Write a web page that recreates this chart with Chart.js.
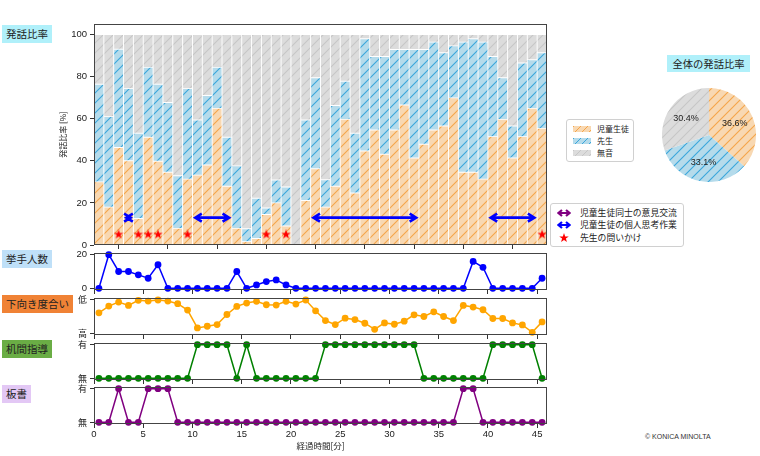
<!DOCTYPE html>
<html>
<head>
<meta charset="utf-8">
<script src="https://cdn.jsdelivr.net/npm/chart.js@4.4.0/dist/chart.umd.min.js"></script>
<style>
  body { margin: 0; background: #fff; }
  #wrap { position: relative; width: 760px; height: 456px; overflow: hidden; font-family: "Noto Sans CJK JP", sans-serif; color: #222; }
  #wrap canvas { position: absolute; }
  .tag { position: absolute; left: 2px; height: 18px; line-height: 18px; font-size: 10.5px; padding: 0 4px; white-space: nowrap; }
  .legend { position: absolute; background: #fff; border: 1px solid #d0d0d0; border-radius: 3px; }
  .legend .row { position: absolute; left: 0; height: 12px; line-height: 12px; white-space: nowrap; }
  .sw { position: absolute; top: 3px; width: 18px; height: 6px; }
  .copy { position: absolute; left: 645px; top: 433px; font: 7px "Liberation Sans", sans-serif; color: #333; }
</style>
</head>
<body>
<div id="wrap">
  <div class="tag" style="top:25px;background:#b0f0fa;">発話比率</div>
  <div class="tag" style="top:250px;background:#bfe0f8;">挙手人数</div>
  <div class="tag" style="top:295px;background:#f08235;">下向き度合い</div>
  <div class="tag" style="top:340px;background:#6aad45;">机間指導</div>
  <div class="tag" style="top:385px;background:#e3c8f5;">板書</div>

  <canvas id="ratio" width="556" height="233" style="left:0;top:18px;"></canvas>
  <canvas id="hands" width="556" height="47" style="left:0;top:248px;"></canvas>
  <canvas id="down" width="556" height="47" style="left:0;top:293px;"></canvas>
  <canvas id="patrol" width="556" height="47" style="left:0;top:338px;"></canvas>
  <canvas id="board" width="556" height="72" style="left:0;top:382px;"></canvas>

  <div class="legend" id="legRatio" style="left:566px;top:119px;width:66px;height:41px;font-size:8px;"></div>
  <div class="legend" id="legMarks" style="left:550px;top:203px;width:132px;height:42px;font-size:8.8px;"></div>

  <div style="position:absolute;left:667px;top:55px;width:83px;height:17px;line-height:17px;text-align:center;background:#b0f0fa;font-size:10.3px;">全体の発話比率</div>
  <canvas id="pie" width="94" height="94" style="left:662px;top:88px;"></canvas>

  <div class="copy">© KONICA MINOLTA</div>
</div>
<script>
// minute slots (bar centres)
const minutes = [0.5, 1.5, 2.5, 3.5, 4.5, 5.5, 6.5, 7.5, 8.5, 9.5, 10.5, 11.5, 12.5, 13.5, 14.5, 15.5,
  16.5, 17.5, 18.5, 19.5, 20.5, 21.5, 22.5, 23.5, 24.5, 25.5, 26.5, 27.5, 28.5, 29.5, 30.5, 31.5,
  32.5, 33.5, 34.5, 35.5, 36.5, 37.5, 38.5, 39.5, 40.5, 41.5, 42.5, 43.5, 44.5, 45.5];
const xTicks = [0, 5, 10, 15, 20, 25, 30, 35, 40, 45];

// 発話比率 [%]
const studentRatio = [30, 18, 46.3, 40, 12.6, 51.2, 39.8, 34.6, 7.9, 31.3, 33.2, 38, 64.9, 27.9, 7.9, 1.6,
  3.1, 14.5, 20, 9, 0, 21.1, 36.2, 18, 27.9, 59.7, 24.7, 44.7, 54.6, 43.1, 54.6, 66.5,
  41.3, 47.9, 54.6, 56.5, 69.9, 34.6, 34.6, 31.3, 51.5, 59.7, 41.3, 51.5, 64.9, 55.4];
const teacherRatio = [46.4, 43, 46.7, 34.3, 40.5, 33.2, 36.6, 33.1, 25, 43, 26.2, 33, 19.5, 23.3, 29.7, 6.1,
  19.1, 3.1, 10.9, 18.6, 0, 38.3, 43.3, 13, 38.4, 18.1, 28.4, 53.3, 35, 46.5, 38.3, 26.4,
  51.6, 45, 41.8, 34.8, 24.7, 61.8, 63.4, 65.1, 38.1, 19.8, 15.2, 35, 23.1, 35.9];
const silenceRatio = [23.6, 39, 7, 25.7, 46.9, 15.6, 23.6, 32.3, 67.1, 25.7, 40.6, 29, 15.6, 48.8, 62.4, 92.3,
  77.8, 82.4, 69.1, 72.4, 100, 40.6, 20.5, 69, 33.7, 22.2, 46.9, 2, 10.4, 10.4, 7.1, 7.1,
  7.1, 7.1, 3.6, 8.7, 5.4, 3.6, 2, 3.6, 10.4, 20.5, 43.5, 13.5, 12, 8.7];
const ratioTicks = [0, 20, 40, 60, 80, 100];

// events on the ratio panel
const questionTimes = [2.5, 4.5, 5.5, 6.5, 9.5, 17.5, 19.5, 45.5];
const questionLevel = 5;
const thinkPeriods = [[3, 4], [10, 14], [22, 33], [40, 45]];
const exchangePeriods = [];
const arrowLevel = 13;

// lower panels
const handsRaised = [0, 20, 10, 10, 8, 6, 14, 0, 0, 0, 0, 0, 0, 0, 10, 0,
  2, 4, 5, 2, 0, 0, 0, 0, 0, 0, 0, 0, 0, 0, 0, 0,
  0, 0, 0, 0, 0, 0, 16, 12.5, 0, 0, 0, 0, 0, 6];
const lookingDown = [0.61, 0.81, 0.93, 0.83, 0.98, 0.96, 0.99, 0.96, 0.88, 0.69, 0.16, 0.21, 0.26, 0.56, 0.80, 0.90,
  0.95, 0.85, 0.84, 0.95, 0.87, 0.99, 0.67, 0.38, 0.26, 0.45, 0.41, 0.30, 0.12, 0.31, 0.27, 0.36,
  0.55, 0.50, 0.64, 0.50, 0.38, 0.83, 0.78, 0.70, 0.44, 0.44, 0.31, 0.25, 0.03, 0.34];
const deskPatrol = [0, 0, 0, 0, 0, 0, 0, 0, 0, 0, 1, 1, 1, 1, 0, 1,
  0, 0, 0, 0, 0, 0, 0, 1, 1, 1, 1, 1, 1, 1, 1, 1,
  1, 0, 0, 0, 0, 0, 0, 0, 1, 1, 1, 1, 1, 0];
const boardWriting = [0, 0, 1, 0, 0, 1, 1, 1, 0, 0, 0, 0, 0, 0, 0, 0,
  0, 0, 0, 0, 0, 0, 0, 0, 0, 0, 0, 0, 0, 0, 0, 0,
  0, 0, 0, 0, 0, 1, 1, 0, 0, 0, 0, 0, 0, 0];

// overall pie
const pieLabels = ['児童生徒', '先生', '無音'];
const pieValues = [36.6, 33.1, 30.4];

const cjk = '"Noto Sans CJK JP", sans-serif';
Chart.defaults.font.family = '"Liberation Sans", "Noto Sans CJK JP", sans-serif';
Chart.defaults.font.size = 9.5;
Chart.defaults.color = '#222';
Chart.defaults.animation = false;
Chart.defaults.plugins.legend.display = false;
Chart.defaults.plugins.tooltip.enabled = false;

function hatch(fill, line) {
  const c = document.createElement('canvas');
  c.width = 10; c.height = 10;
  const g = c.getContext('2d');
  g.fillStyle = fill;
  g.fillRect(0, 0, 10, 10);
  g.strokeStyle = line;
  g.lineWidth = 1.1;
  g.beginPath();
  g.moveTo(-5, 5); g.lineTo(5, -5);
  g.moveTo(0, 10); g.lineTo(10, 0);
  g.moveTo(5, 15); g.lineTo(15, 5);
  g.stroke();
  return g.createPattern(c, 'repeat');
}
const styles = [
  { fill: '#f8d8b2', line: '#f5a54a' },
  { fill: '#b5dbeb', line: '#3aa6dc' },
  { fill: '#dcdcdc', line: '#c6c6c6' }
];
const patterns = styles.map(s => hatch(s.fill, s.line));

function starImage(size, color) {
  const c = document.createElement('canvas');
  c.width = size; c.height = size;
  const g = c.getContext('2d');
  const r = size / 2, ri = r * 0.4;
  g.fillStyle = color;
  g.beginPath();
  for (let k = 0; k < 10; k++) {
    const a = -Math.PI / 2 + k * Math.PI / 5;
    const rr = k % 2 ? ri : r;
    g.lineTo(r + rr * Math.cos(a), r + rr * Math.sin(a));
  }
  g.closePath();
  g.fill();
  return c;
}

const framePlugin = {
  id: 'frame',
  afterDatasetsDraw(chart) {
    const { ctx, chartArea: a } = chart;
    ctx.save();
    ctx.strokeStyle = '#444';
    ctx.lineWidth = 1;
    ctx.strokeRect(Math.round(a.left) + 0.5, Math.round(a.top) + 0.5,
      Math.round(a.right - a.left) - 1, Math.round(a.bottom - a.top) - 1);
    ctx.restore();
  }
};

const arrowPlugin = {
  id: 'periodArrows',
  afterDatasetsDraw(chart) {
    const { ctx, scales: { x, y } } = chart;
    const yp = y.getPixelForValue(arrowLevel);
    const draw = (periods, color) => periods.forEach(([s, e]) => {
      const x1 = x.getPixelForValue(s) + 2.8, x2 = x.getPixelForValue(e) - 2.8;
      ctx.save();
      ctx.strokeStyle = color;
      ctx.lineWidth = 2.6;
      ctx.lineJoin = 'miter';
      ctx.beginPath();
      ctx.moveTo(x1, yp); ctx.lineTo(x2, yp);
      ctx.moveTo(x1 + 6.5, yp - 4); ctx.lineTo(x1, yp); ctx.lineTo(x1 + 6.5, yp + 4);
      ctx.moveTo(x2 - 6.5, yp - 4); ctx.lineTo(x2, yp); ctx.lineTo(x2 - 6.5, yp + 4);
      ctx.stroke();
      ctx.restore();
    });
    draw(exchangePeriods, '#800080');
    draw(thinkPeriods, '#0000ff');
  }
};

function xAxis(bottom) {
  return {
    type: 'linear', min: 0, max: 46, offset: false, stacked: true,
    afterBuildTicks: s => { s.ticks = xTicks.map(v => ({ value: v })); },
    ticks: { display: bottom, padding: 1, maxRotation: 0, autoSkip: false },
    grid: { drawOnChartArea: false, drawTicks: true, tickLength: 4, color: '#333' },
    border: { display: false },
    title: bottom
      ? { display: true, text: '経過時間[分]', font: { size: 8.5, family: cjk }, padding: { top: 0, bottom: 3 } }
      : { display: false },
    afterFit: s => { s.height = bottom ? 30 : 5; s.paddingLeft = 0; s.paddingRight = 0; }
  };
}

function yAxis(min, max, ticks, labels, title) {
  return {
    min, max,
    afterBuildTicks: s => { s.ticks = ticks.map(v => ({ value: v })); },
    ticks: {
      padding: 3,
      font: labels ? { family: cjk, size: 9 } : undefined,
      callback: (v, i) => labels ? labels[i] : v
    },
    grid: { drawOnChartArea: false, drawTicks: true, tickLength: 4, color: '#333' },
    border: { display: false },
    title: title
      ? { display: true, text: title, font: { size: 8, family: cjk }, padding: { top: 2, bottom: 0 } }
      : { display: false },
    afterFit: s => { s.width = 38; s.paddingTop = 0; s.paddingBottom = 0; }
  };
}

// --- 発話比率 (stacked hatched bars) ---
const points = arr => minutes.map((m, i) => ({ x: m, y: arr[i] }));
const barSet = (label, arr, i) => ({
  label, data: points(arr), backgroundColor: patterns[i],
  borderColor: 'rgba(255,255,255,0.4)', borderWidth: 0.8, borderSkipped: false,
  barPercentage: 1, categoryPercentage: 1, stack: 'ratio', order: 1
});

new Chart(document.getElementById('ratio'), {
  type: 'bar',
  data: {
    datasets: [
      barSet('児童生徒', studentRatio, 0),
      barSet('先生', teacherRatio, 1),
      barSet('無音', silenceRatio, 2),
      {
        type: 'scatter', label: '先生の問いかけ', stack: 'stars', order: 0,
        data: questionTimes.map(t => ({ x: t, y: questionLevel })),
        pointStyle: starImage(10, '#ff0000'), pointRadius: 5, clip: false
      }
    ]
  },
  options: {
    responsive: false,
    layout: { padding: { left: 56, right: 9, top: 5, bottom: 0 } },
    scales: {
      x: xAxis(false),
      y: Object.assign(yAxis(0, 105, ratioTicks, null, '発話比率 [%]'), { stacked: true })
    }
  },
  plugins: [framePlugin, arrowPlugin]
});

// --- lower line panels ---
function lineChart(id, values, color, min, max, ticks, labels, bottom) {
  new Chart(document.getElementById(id), {
    type: 'line',
    data: {
      datasets: [{
        data: points(values), borderColor: color, backgroundColor: color,
        borderWidth: 1.5, pointRadius: 3.4, pointBorderWidth: 0, tension: 0, clip: false
      }]
    },
    options: {
      responsive: false,
      layout: { padding: { left: 56, right: 9, top: 5, bottom: 0 } },
      scales: {
        x: xAxis(bottom),
        y: yAxis(min, max, ticks, labels, null)
      }
    },
    plugins: [framePlugin]
  });
}
lineChart('hands', handsRaised, '#0000ff', -1, 21, [0, 20], null, false);
lineChart('down', lookingDown, '#ffa500', -0.05, 1.05, [0, 1], ['高', '低'], false);
lineChart('patrol', deskPatrol, '#008000', -0.05, 1.05, [0, 1], ['無', '有'], false);
lineChart('board', boardWriting, '#800080', -0.05, 1.05, [0, 1], ['無', '有'], true);

// --- overall pie ---
const pctPlugin = {
  id: 'pct',
  afterDatasetsDraw(chart) {
    const { ctx } = chart;
    ctx.save();
    ctx.font = '9px "Liberation Sans", sans-serif';
    ctx.fillStyle = '#222';
    ctx.textAlign = 'center';
    ctx.textBaseline = 'middle';
    chart.getDatasetMeta(0).data.forEach((arc, i) => {
      const p = arc.getProps(['x', 'y', 'startAngle', 'endAngle', 'outerRadius'], true);
      const m = (p.startAngle + p.endAngle) / 2;
      ctx.fillText(pieValues[i].toFixed(1) + '%',
        p.x + Math.cos(m) * p.outerRadius * 0.6, p.y + Math.sin(m) * p.outerRadius * 0.6);
    });
    ctx.restore();
  }
};
new Chart(document.getElementById('pie'), {
  type: 'pie',
  data: { labels: pieLabels, datasets: [{ data: pieValues, backgroundColor: patterns, borderWidth: 0 }] },
  options: { responsive: false, layout: { padding: 0 } },
  plugins: [pctPlugin]
});

// --- HTML legends ---
const legRatio = document.getElementById('legRatio');
pieLabels.forEach((name, i) => {
  const s = styles[i];
  legRatio.insertAdjacentHTML('beforeend',
    `<div class="row" style="top:${3 + i * 12}px;width:100%;">
       <span class="sw" style="left:6px;background:repeating-linear-gradient(135deg, ${s.line} 0 1px, ${s.fill} 1px 5px);"></span>
       <span style="position:absolute;left:30px;">${name}</span></div>`);
});

const markItems = [
  { name: '児童生徒同士の意見交流', icon: 'arrow', color: '#800080' },
  { name: '児童生徒の個人思考作業', icon: 'arrow', color: '#0000ff' },
  { name: '先生の問いかけ', icon: 'star', color: '#ff0000' }
];
const legMarks = document.getElementById('legMarks');
markItems.forEach((it, i) => {
  const svg = it.icon === 'arrow'
    ? `<svg width="14" height="10" style="position:absolute;left:6px;top:1px;"><path d="M1.5 5H12.5M5 2L1.5 5L5 8M9 2L12.5 5L9 8" stroke="${it.color}" stroke-width="2.2" fill="none"/></svg>`
    : `<svg width="10" height="10" style="position:absolute;left:8px;top:1px;"><polygon points="5,0 6.18,3.38 9.76,3.45 6.9,5.62 7.94,9.05 5,7 2.06,9.05 3.1,5.62 0.24,3.45 3.82,3.38" fill="${it.color}"/></svg>`;
  legMarks.insertAdjacentHTML('beforeend',
    `<div class="row" style="top:${3 + i * 12.3}px;width:100%;">${svg}
       <span style="position:absolute;left:29px;">${it.name}</span></div>`);
});
</script>
</body>
</html>
